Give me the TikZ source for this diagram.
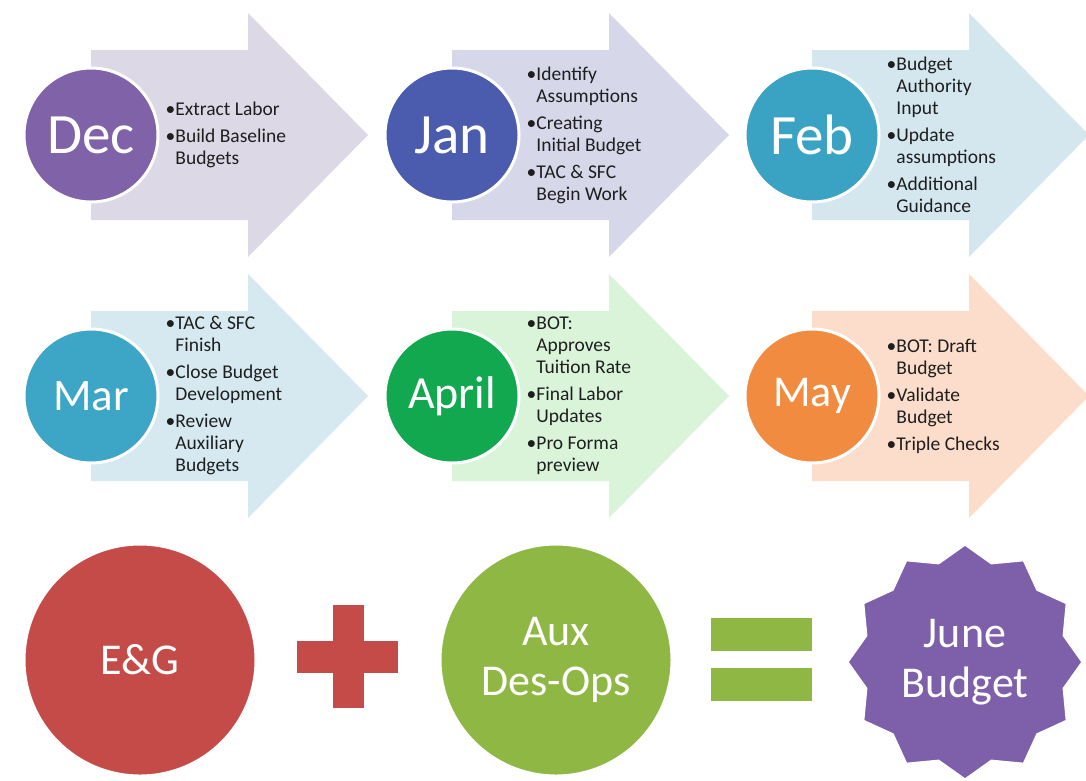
\documentclass[tikz,border=0pt]{standalone}
\usepackage{fontspec}
\setmainfont{Carlito}
\usetikzlibrary{positioning,shapes.geometric}

\definecolor{decPurple}{HTML}{7F62A8}
\definecolor{janBlue}{HTML}{4B5BAE}
\definecolor{febTeal}{HTML}{3AA3C3}
\definecolor{marTeal}{HTML}{3DA6C6}
\definecolor{aprGreen}{HTML}{12A84F}
\definecolor{mayOrange}{HTML}{F18B3F}
\definecolor{egRed}{HTML}{C44B48}
\definecolor{auxGreen}{HTML}{8EB843}
\definecolor{junePurple}{HTML}{7E60AA}
\definecolor{decArrow}{HTML}{DCD8E6}
\definecolor{janArrow}{HTML}{D6D8EA}
\definecolor{febArrow}{HTML}{D4E7EF}
\definecolor{marArrow}{HTML}{D6E9F1}
\definecolor{aprArrow}{HTML}{DAF4DA}
\definecolor{mayArrow}{HTML}{FCDDCB}
\definecolor{taskText}{HTML}{1E1E1E}

\tikzset{
  month/.style={circle, draw=white, line width=3pt, minimum size=134pt, inner sep=0pt, text=white},
  tasks/.style={align=left, inner sep=0pt, text=taskText, font=\fontsize{19.5}{22}\selectfont},
  bigdot/.style={circle, draw=white, line width=3pt, minimum size=232pt, inner sep=0pt, text=white, align=center, font=\fontsize{44}{50}\selectfont},
}
\newcommand{\itm}{\textbullet}
\newcommand{\cont}{\phantom{\textbullet}}

\begin{document}
\begin{tikzpicture}[x=1pt,y=-1pt]
\useasboundingbox[fill=white] (0,0) rectangle (1086,780);
% arrows behind the months
\foreach \cx/\cy/\col in {91/135/decArrow, 452/135/janArrow, 812/135/febArrow,
                          91/396/marArrow, 452/396/aprArrow, 812/396/mayArrow}{
  \fill[\col] (\cx,\cy-85) -- (\cx+157,\cy-85) -- (\cx+157,\cy-122) -- (\cx+277,\cy)
     -- (\cx+157,\cy+122) -- (\cx+157,\cy+85) -- (\cx,\cy+85) -- cycle;
}
% top row
\node[month, fill=decPurple, font=\fontsize{57}{57}\selectfont] (dec) at (91,135) {Dec};
\node[tasks, right=6pt of dec] (decList) {\itm Extract Labor\\[5pt] \itm Build Baseline\\ \cont Budgets};
\node[month, fill=janBlue, font=\fontsize{57}{57}\selectfont] (jan) at (452,135) {Jan};
\node[tasks, right=6pt of jan] (janList) {\itm Identify\\ \cont Assumptions\\[5pt] \itm Creating\\ \cont Initial Budget\\[5pt] \itm TAC \& SFC\\ \cont Begin Work};
\node[month, fill=febTeal, font=\fontsize{57}{57}\selectfont] (feb) at (812,135) {Feb};
\node[tasks, right=6pt of feb] (febList) {\itm Budget\\ \cont Authority\\ \cont Input\\[5pt] \itm Update\\ \cont assumptions\\[5pt] \itm Additional\\ \cont Guidance};
% second row
\node[month, fill=marTeal, font=\fontsize{45}{45}\selectfont] (mar) at (91,396) {Mar};
\node[tasks, right=6pt of mar] (marList) {\itm TAC \& SFC\\ \cont Finish\\[5pt] \itm Close Budget\\ \cont Development\\[5pt] \itm Review\\ \cont Auxiliary\\ \cont Budgets};
\node[month, fill=aprGreen, font=\fontsize{46}{46}\selectfont] (apr) at (452,396) {April};
\node[tasks, right=6pt of apr] (aprList) {\itm BOT:\\ \cont Approves\\ \cont Tuition Rate\\[5pt] \itm Final Labor\\ \cont Updates\\[5pt] \itm Pro Forma\\ \cont preview};
\node[month, fill=mayOrange, font=\fontsize{44}{44}\selectfont] (may) at (812,396) {May};
\node[tasks, right=6pt of may] (mayList) {\itm BOT: Draft\\ \cont Budget\\[5pt] \itm Validate\\ \cont Budget\\[5pt] \itm Triple Checks};
% bottom row
\node[bigdot, fill=egRed] (eg) at (140,660) {E\&G};
\fill[egRed] (297,641) rectangle (398,673);
\fill[egRed] (333,605) rectangle (364,708);
\node[bigdot, fill=auxGreen] (aux) at (556,660) {Aux\\Des-Ops};
\fill[auxGreen] (711,618) rectangle (812,651);
\fill[auxGreen] (711,668) rectangle (812,701);
\node[star, star points=12, star point ratio=1.15, minimum size=236pt, inner sep=0pt,
      draw=white, line width=3pt, fill=junePurple, text=white, align=center,
      font=\fontsize{44}{50}\selectfont] (june) at (965,662) {June\\Budget};
\end{tikzpicture}
\end{document}
